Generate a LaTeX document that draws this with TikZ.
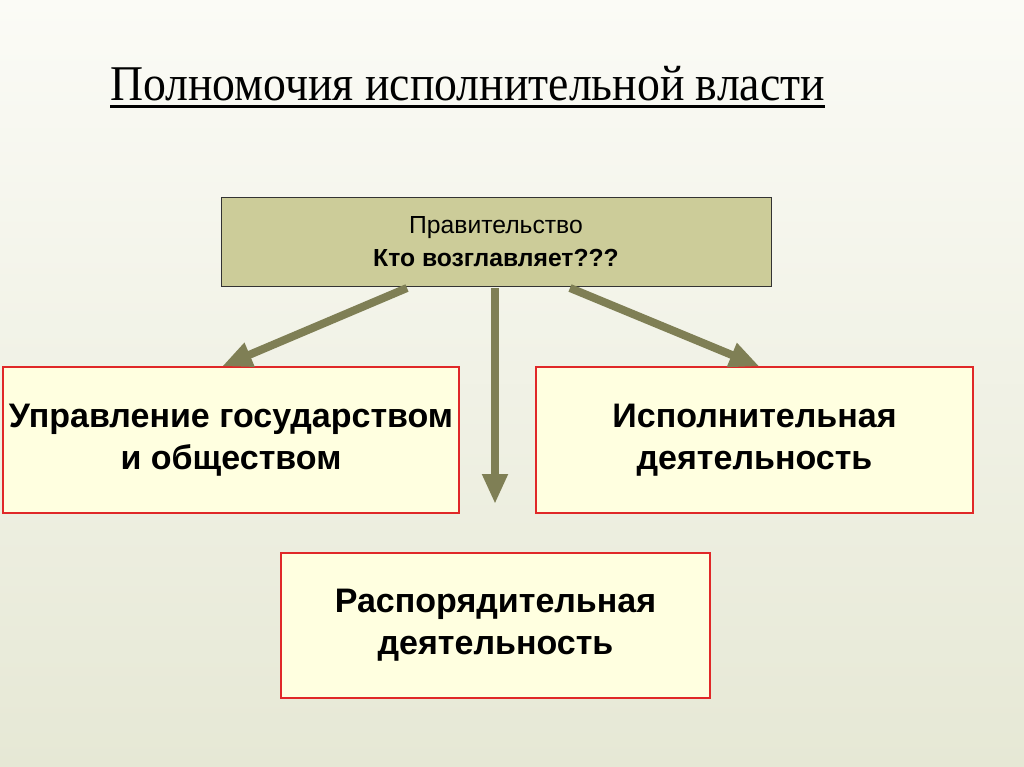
\documentclass[tikz,border=0pt]{standalone}
\usepackage{fontspec}
\setmainfont{Liberation Serif}
\setsansfont{Liberation Sans}
\usetikzlibrary{arrows.meta}
\definecolor{bgtop}{HTML}{FBFBF6}
\definecolor{bgmid}{HTML}{E9E8DD}
\definecolor{bgbot}{HTML}{E6E8D5}
\definecolor{olivebox}{HTML}{CCCC99}
\definecolor{olivearrow}{HTML}{7F7F55}
\definecolor{cream}{HTML}{FFFFE0}
\definecolor{boxred}{HTML}{E02828}

\begin{document}
\begin{tikzpicture}[x=1pt, y=-1pt,
      every node/.append style={align=center,inner sep=0pt,font=\sffamily},
      link/.style={-{Triangle[length=30pt,width=24pt]},line width=8pt,color=olivearrow}]
    \tikzstyle{head} = [draw=black!80,fill=olivebox,line width=0.8pt,font=\sffamily\fontsize{24.7}{33}\selectfont]
    \tikzstyle{duty} = [draw=boxred,fill=cream,line width=1.2pt,font=\sffamily\bfseries\fontsize{34}{42}\selectfont]
    % background
    \shade[top color=bgtop,middle color=bgmid,bottom color=bgbot] (0,0) rectangle (1024,767);
    \useasboundingbox (0,0) rectangle (1024,767);
    % title
    \node (title) [anchor=base west,font=\rmfamily\fontsize{50}{55}\selectfont] at (110,101)
      {\scalebox{0.915}[1]{Полномочия исполнительной власти}};
    \draw[line width=3pt] ([yshift=-6pt]title.base west) -- ([yshift=-6pt]title.base east);
    % boxes
    \node (gov) [head,minimum width=550pt,minimum height=89pt] at (496,242)
      {Правительство\\\textbf{Кто возглавляет???}};
    \node (rule) [duty,minimum width=456pt,minimum height=146pt] at (231,440)
      {Управление государством\\и обществом};
    \node (exec) [duty,minimum width=437pt,minimum height=146pt] at (754.5,440)
      {Исполнительная\\деятельность};
    \node (order) [duty,minimum width=429pt,minimum height=145pt] at (495.5,625.5)
      {Распорядительная\\деятельность};
    % arrows
    \coordinate (gl) at (407,288);
    \coordinate (gm) at (495,288);
    \coordinate (gr) at (570,288);
    \coordinate (down) at (495,504);
    \draw[link] (gl) -- ([xshift=-9pt]rule.north);
    \draw[link] (gm) -- (down);
    \draw[link] (gr) -- ([xshift=5pt]exec.north);
  \end{tikzpicture}
\end{document}
